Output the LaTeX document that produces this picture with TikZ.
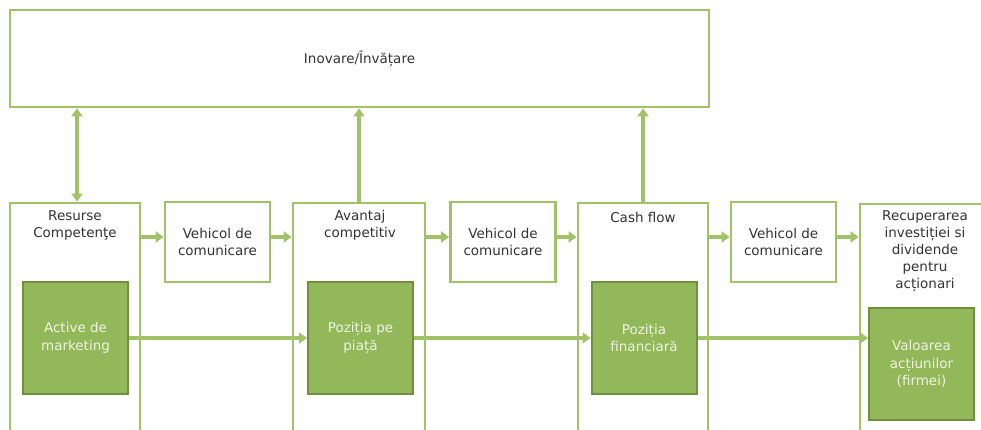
\documentclass[tikz,border=0pt]{standalone}
\usepackage{fontspec}
\setmainfont{DejaVu Sans}
\usetikzlibrary{arrows.meta}
\definecolor{lineg}{HTML}{A2C26A}
\definecolor{fillg}{HTML}{93B85A}
\definecolor{darkg}{HTML}{728F3E}
\definecolor{txt}{HTML}{333333}
\definecolor{ltxt}{HTML}{EEF4E2}
\tikzset{
  frame/.style={draw=lineg, line width=2.8pt, fill=white, inner sep=0pt},
  colbox/.style={frame, minimum width=#1, minimum height=250pt},
  vehbox/.style={frame, minimum width=105pt, minimum height=80pt,
    align=center, text=txt, font=\fontsize{13.5}{17.5}\selectfont},
  greenbox/.style={draw=darkg, line width=2pt, fill=fillg, inner sep=0pt,
    minimum width=105pt, minimum height=112pt, align=center, text=ltxt,
    font=\fontsize{13.5}{17.5}\selectfont},
  title/.style={align=center, text=txt, inner sep=0pt,
    font=\fontsize{13.5}{17}\selectfont},
  arr/.style={draw=lineg, line width=3.2pt,
    -{Triangle[length=8pt, width=11pt]}},
  darr/.style={draw=lineg, line width=3.2pt,
    {Triangle[length=8pt, width=11pt]}-{Triangle[length=8pt, width=11pt]}},
}
\begin{document}
\begin{tikzpicture}[x=1pt, y=-1pt]
\useasboundingbox (0,0) rectangle (981,430);
\clip (0,0) rectangle (981,430);
\fill[white] (0,0) rectangle (981,430);

% innovation / learning band
\node[frame, minimum width=699pt, minimum height=97pt, text=txt,
  font=\fontsize{13.5}{17}\selectfont] (top) at (359.5,58.5) {Inovare/Învățare};

% four stage columns, open at the bottom
\node[colbox=130pt] (c1) at (75,328) {};
\node[colbox=132pt] (c2) at (359,328) {};
\node[colbox=130pt] (c3) at (643,328) {};
\node[colbox=140pt] (c4) at (930,329) {};

% column titles
\node[title] (t1) at (75,225.5) {Resurse\\Competenţe};
\node[title] (t2) at (360,225.5) {Avantaj\\competitiv};
\node[title] (t3) at (643,217) {Cash flow};
\node[title] (t4) at (925,251.5) {Recuperarea\\investiției si\\dividende\\pentru\\acționari};

% communication vehicles between the columns
\node[vehbox] (v1) at (217.5,242) {Vehicol de\\comunicare};
\node[vehbox] (v2) at (503,242) {Vehicol de\\comunicare};
\node[vehbox] (v3) at (783.5,242) {Vehicol de\\comunicare};

% positions inside the columns
\node[greenbox] (g1) at (75.5,338) {Active de\\marketing};
\node[greenbox] (g2) at (360.5,338) {Poziția pe\\piață};
\node[greenbox] (g3) at (644,338) {Poziția\\financiară};
\node[greenbox] (g4) at (921.5,364) {Valoarea\\acțiunilor\\(firmei)};

% upper chain through the vehicles
\draw[arr] ([yshift=5pt]c1.east |- v1.west) -- ([yshift=5pt]v1.west);
\draw[arr] ([yshift=5pt]v1.east) -- ([yshift=5pt]c2.west |- v1.east);
\draw[arr] ([yshift=5pt]c2.east |- v2.west) -- ([yshift=5pt]v2.west);
\draw[arr] ([yshift=5pt]v2.east) -- ([yshift=5pt]c3.west |- v2.east);
\draw[arr] ([yshift=5pt]c3.east |- v3.west) -- ([yshift=5pt]v3.west);
\draw[arr] ([yshift=5pt]v3.east) -- ([yshift=5pt]c4.west |- v3.east);

% lower chain through the positions
\draw[arr] (g1.east) -- (g2.west);
\draw[arr] (g2.east) -- (g3.west);
\draw[arr] (g3.east) -- (g3.east -| g4.west);

% links with the innovation band
\draw[darr] ([xshift=2pt]top.south -| c1.north) -- ([xshift=2pt]c1.north);
\draw[arr] (c2.north) -- (top.south -| c2.north);
\draw[arr] (c3.north) -- (top.south -| c3.north);
\end{tikzpicture}
\end{document}
